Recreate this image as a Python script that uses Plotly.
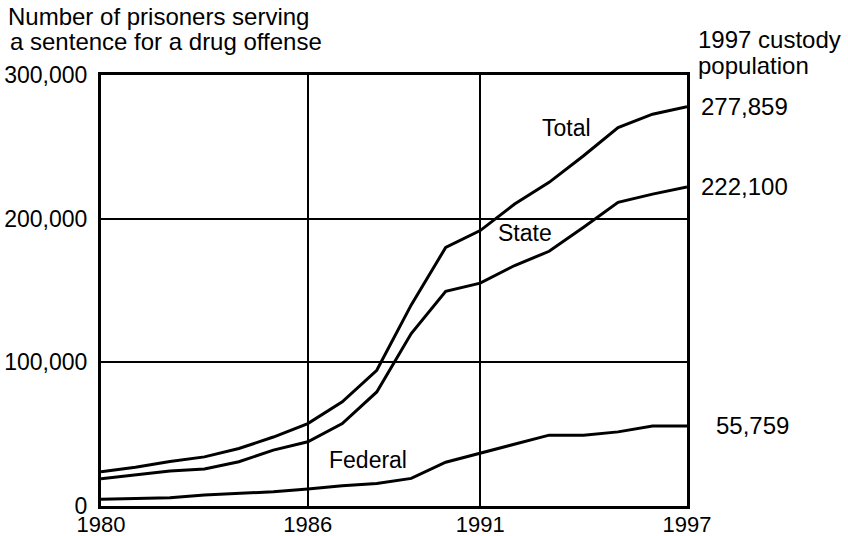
import plotly.graph_objects as go

years = list(range(1980, 1998))
total = [23800, 27000, 31000, 34200, 40000, 48000, 57400, 72500, 94500, 140000,
         180000, 191700, 210200, 225300, 243800, 263400, 272700, 277859]
state = [19000, 21600, 24400, 25700, 30800, 38900, 44700, 57400, 79400, 120000,
         149500, 155100, 167400, 177300, 194000, 211400, 217100, 222100]
federal = [4750, 5200, 5700, 7600, 8800, 9900, 11800, 14100, 15700, 19200,
           30500, 36600, 42800, 49300, 49300, 51600, 55600, 55759]
x_ticks = [1980, 1986, 1991, 1997]
y_ticks = [0, 100000, 200000, 300000]
y_tick_text = ["0", "100,000", "200,000", "300,000"]

W, H = 848, 536
L, R, T, B = 101, 687, 75, 506
FONT = "Liberation Sans, Arial, sans-serif"
FS = 23


def px(x):
    return (x - L) / (R - L)


def py(y):
    return (B - y) / (B - T)


fig = go.Figure()
for name, vals in [("Total", total), ("State", state), ("Federal", federal)]:
    fig.add_trace(go.Scatter(x=years, y=vals, mode="lines", name=name,
                             line=dict(color="black", width=3),
                             showlegend=False, hoverinfo="skip"))

ann = []
# series labels
ann.append(dict(x=1993.5, y=263000, xref="x", yref="y", text="Total", showarrow=False))
ann.append(dict(x=1992.3, y=190000, xref="x", yref="y", text="State", showarrow=False))
ann.append(dict(x=1987.75, y=32000, xref="x", yref="y", text="Federal", showarrow=False))
for a in ann:
    a["font"] = dict(family=FONT, size=FS, color="black")
# end values
for vals, dx in [(total, 0), (state, 0), (federal, 15)]:
    ann.append(dict(x=px(699 + dx), y=vals[-1], xref="paper", yref="y",
                    text=f"{vals[-1]:,}", showarrow=False, xanchor="left",
                    yanchor="middle",
                    font=dict(family=FONT, size=24, color="black")))
# titles
titles = [("Number of prisoners serving", 6, 17),
          ("a sentence for a drug offense", 8, 41),
          ("1997 custody", 696, 40),
          ("population", 696, 66)]
for text, x0, y0 in titles:
    ann.append(dict(x=px(x0), y=py(y0), xref="paper", yref="paper", xanchor="left",
                    yanchor="middle", text=text, showarrow=False,
                    font=dict(family=FONT, size=24, color="black")))

fig.update_layout(
    width=W, height=H,
    margin=dict(l=L, r=W - R, t=T, b=H - B, pad=0),
    paper_bgcolor="white", plot_bgcolor="white",
    font=dict(family=FONT, size=FS, color="black"),
    annotations=ann,
    xaxis=dict(range=[1980, 1997], tickvals=x_ticks, ticktext=[str(v) for v in x_ticks],
               showgrid=True, gridcolor="black", gridwidth=2,
               showline=True, linecolor="black", linewidth=3, mirror=True,
               ticks="", zeroline=False, ticklabelstandoff=-3, automargin=False,
               tickfont=dict(family=FONT, size=22, color="black")),
    yaxis=dict(range=[0, 300000], tickvals=y_ticks, ticktext=y_tick_text,
               showgrid=True, gridcolor="black", gridwidth=2,
               showline=True, linecolor="black", linewidth=3, mirror=True,
               ticks="", zeroline=False, ticklabelstandoff=6, automargin=False),
)

fig.write_html("out.html", config={"displayModeBar": False},
               post_script="document.body.style.margin='0';")
